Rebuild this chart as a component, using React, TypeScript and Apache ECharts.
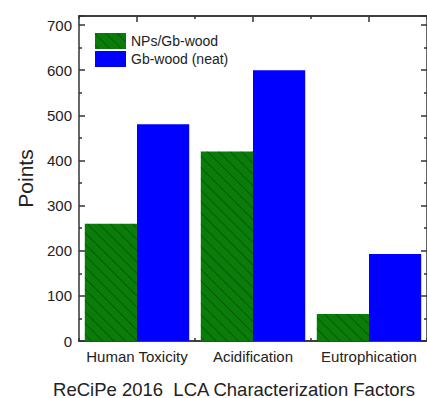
import React, { useEffect, useRef } from "react";
import * as echarts from "echarts";

const categories = ["Human Toxicity", "Acidification", "Eutrophication"];
const npsGbWood = [260, 420, 60];
const gbWoodNeat = [480, 600, 193];
const seriesNames = ["NPs/Gb-wood", "Gb-wood (neat)"];
const yTicks = [0, 100, 200, 300, 400, 500, 600, 700];
const yAxisName = "Points";
const xTitle = "ReCiPe 2016  LCA Characterization Factors";

const FONT = "'Liberation Sans', Arial, sans-serif";
const AX = "#333";

export default function App() {
  const ref = useRef<HTMLDivElement>(null);
  useEffect(() => {
    const chart = echarts.init(ref.current!, null, { renderer: "svg" });
    const hidden = { show: false };
    const catBase = {
      type: "category",
      data: categories,
      boundaryGap: true,
      axisLine: { show: true, lineStyle: { color: AX, width: 1.5 } },
      splitLine: hidden,
    };
    chart.setOption({
      animation: false,
      textStyle: { fontFamily: FONT },
      grid: { left: 79, right: -1, top: 16, bottom: 57, containLabel: false },
      legend: {
        orient: "vertical",
        left: 90,
        top: 28,
        itemWidth: 31,
        itemHeight: 16,
        itemGap: 2,
        icon: "rect",
        data: seriesNames,
        textStyle: { fontSize: 14, color: "#222", fontFamily: FONT },
      },
      xAxis: [
        {
          ...catBase,
          position: "bottom",
          axisTick: { show: true, alignWithLabel: true, inside: true, length: 6, lineStyle: { color: AX, width: 1.5 } },
          axisLabel: { fontSize: 15, color: "#222", margin: 8, interval: 0, fontFamily: FONT },
        },
        {
          ...catBase,
          position: "bottom",
          axisTick: { show: true, alignWithLabel: false, inside: true, length: 3, lineStyle: { color: AX, width: 1.5 } },
          axisLabel: hidden,
        },
        {
          ...catBase,
          position: "top",
          axisTick: { show: true, alignWithLabel: true, inside: true, length: 6, lineStyle: { color: AX, width: 1.5 } },
          axisLabel: hidden,
        },
        {
          ...catBase,
          position: "top",
          axisTick: { show: true, alignWithLabel: false, inside: true, length: 3, lineStyle: { color: AX, width: 1.5 } },
          axisLabel: hidden,
        },
      ],
      yAxis: [
        {
          type: "value",
          min: 0,
          max: 720,
          interval: 100,
          position: "left",
          name: yAxisName,
          nameLocation: "middle",
          nameGap: 43,
          nameTextStyle: { fontSize: 21, color: "#222", fontFamily: FONT },
          axisLine: { show: true, lineStyle: { color: AX, width: 1.5 } },
          axisTick: { show: true, inside: true, length: 6, lineStyle: { color: AX, width: 1.5 } },
          minorTick: { show: true, splitNumber: 2, length: 3, lineStyle: { color: AX, width: 1.5 } },
          axisLabel: {
            fontSize: 15,
            color: "#222",
            margin: 7,
            fontFamily: FONT,
            formatter: (v: number) => (yTicks.includes(v) ? String(v) : ""),
          },
          splitLine: hidden,
        },
        {
          type: "value",
          min: 0,
          max: 720,
          interval: 100,
          position: "right",
          axisLine: { show: true, lineStyle: { color: AX, width: 1.5 } },
          axisTick: { show: true, inside: true, length: 6, lineStyle: { color: AX, width: 1.5 } },
          minorTick: { show: true, splitNumber: 2, length: 3, lineStyle: { color: AX, width: 1.5 } },
          axisLabel: hidden,
          splitLine: hidden,
        },
      ],
      series: [
        {
          name: seriesNames[0],
          type: "bar",
          data: npsGbWood,
          barGap: "0%",
          barCategoryGap: "10%",
          itemStyle: {
            color: "#0a7c0a",
            decal: {
              symbol: "rect",
              color: "rgba(0,40,0,0.4)",
              dashArrayX: [1, 0],
              dashArrayY: [1, 7],
              rotation: Math.PI / 4,
            },
          },
        },
        {
          name: seriesNames[1],
          type: "bar",
          data: gbWoodNeat,
          barGap: "0%",
          barCategoryGap: "10%",
          itemStyle: { color: "#0000ff" },
        },
      ],
      graphic: [
        {
          type: "text",
          x: 234,
          y: 389,
          style: {
            text: xTitle,
            fontSize: 18.5,
            fontFamily: FONT,
            fill: "#222",
            textAlign: "center",
            textVerticalAlign: "middle",
          },
        },
      ],
    });
    return () => chart.dispose();
  }, []);
  return <div ref={ref} style={{ position: "absolute", left: 0, top: 0, width: 427, height: 398 }} />;
}
